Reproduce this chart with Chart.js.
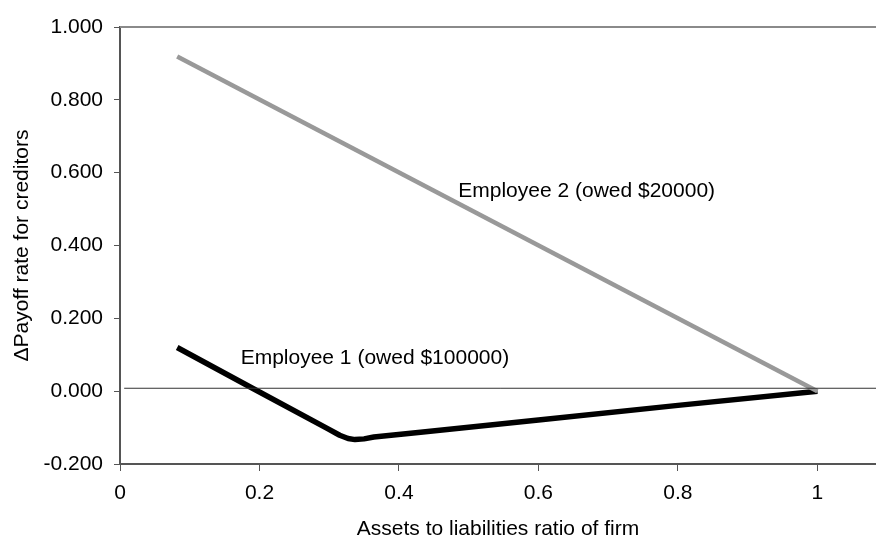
<!DOCTYPE html>
<html lang="en">
<head>
    <meta charset="UTF-8">
    <title>Payoff rate for creditors</title>
    <script src="https://cdn.jsdelivr.net/npm/chart.js"></script>
    <style>
        html, body {
            margin: 0;
            padding: 0;
            background: #ffffff;
        }
        #wrap {
            width: 876px;
            height: 538px;
        }
    </style>
</head>
<body>
    <div id="wrap"><canvas id="chart"></canvas></div>

    <script>
        // assets-to-liabilities ratio and payoff change
        const emp1X = [0.082, 0.19, 0.297, 0.315, 0.327, 0.337, 0.35, 0.364, 0.431, 0.6, 0.8, 1.0];
        const emp1Y = [0.12, 0.008, -0.102, -0.121, -0.130, -0.133, -0.131, -0.126, -0.113, -0.079, -0.039, 0.0];
        const emp2X = [0.082, 1.0];
        const emp2Y = [0.919, 0.0];
        const zeroX = [0.006, 1.084];
        const zeroY = [0.008, 0.008];

        const xTicks = [0, 0.2, 0.4, 0.6, 0.8, 1];
        const yTicks = [-0.2, 0, 0.2, 0.4, 0.6, 0.8, 1.0];

        const labelTexts = ["Employee 1 (owed $100000)", "Employee 2 (owed $20000)"];
        const labelX = [0.173, 0.485];
        const labelY = [0.075, 0.534];

        const FONT = "'Liberation Sans', Arial, sans-serif";
        const AXIS = "#555555";

        function pts(xs, ys) {
            return xs.map((x, i) => ({ x: x, y: ys[i] }));
        }

        const chartDecor = {
            id: 'chartDecor',
            afterDatasetsDraw(chart) {
                const { ctx, chartArea, scales } = chart;
                ctx.save();
                // top frame line
                ctx.strokeStyle = "#8a8a8a";
                ctx.lineWidth = 2;
                ctx.beginPath();
                ctx.moveTo(chartArea.left, chartArea.top);
                ctx.lineTo(chartArea.right, chartArea.top);
                ctx.stroke();

                // series labels
                ctx.fillStyle = "#000";
                ctx.font = "21px " + FONT;
                ctx.textAlign = "left";
                ctx.textBaseline = "alphabetic";
                labelTexts.forEach((t, i) => {
                    ctx.fillText(t, scales.x.getPixelForValue(labelX[i]), scales.y.getPixelForValue(labelY[i]));
                });
                ctx.restore();
            }
        };

        new Chart(document.getElementById('chart'), {
            type: 'scatter',
            data: {
                datasets: [
                    {
                        label: "zero",
                        data: pts(zeroX, zeroY),
                        showLine: true,
                        borderColor: "#333",
                        borderWidth: 1,
                        pointRadius: 0
                    },
                    {
                        label: labelTexts[1],
                        data: pts(emp2X, emp2Y),
                        showLine: true,
                        borderColor: "#999999",
                        borderWidth: 4.5,
                        pointRadius: 0
                    },
                    {
                        label: labelTexts[0],
                        data: pts(emp1X, emp1Y),
                        showLine: true,
                        borderColor: "#000000",
                        borderWidth: 5.5,
                        borderJoinStyle: 'round',
                        borderCapStyle: 'butt',
                        tension: 0,
                        pointRadius: 0
                    }
                ]
            },
            options: {
                responsive: true,
                maintainAspectRatio: false,
                animation: false,
                layout: { padding: { top: 27, left: 0, right: 0, bottom: 0 } },
                plugins: {
                    legend: { display: false },
                    tooltip: { enabled: false }
                },
                scales: {
                    x: {
                        type: 'linear',
                        min: 0,
                        max: 1.084,
                        afterFit(s) { s.height = 74; },
                        afterBuildTicks(s) { s.ticks = xTicks.map(v => ({ value: v })); },
                        ticks: {
                            color: "#000",
                            font: { family: FONT, size: 21 },
                            padding: 10,
                            maxRotation: 0,
                            callback: v => String(Math.round(v * 10) / 10)
                        },
                        grid: {
                            drawOnChartArea: false,
                            drawTicks: true,
                            tickLength: 7,
                            color: AXIS,
                            lineWidth: 1
                        },
                        border: { display: true, color: AXIS, width: 2 },
                        title: {
                            display: true,
                            text: "Assets to liabilities ratio of firm",
                            color: "#000",
                            font: { family: FONT, size: 21, lineHeight: 0.8 },
                            padding: { top: 0, bottom: 0 }
                        }
                    },
                    y: {
                        min: -0.2,
                        max: 1.0,
                        afterFit(s) { s.width = 120; },
                        afterBuildTicks(s) { s.ticks = yTicks.map(v => ({ value: v })); },
                        ticks: {
                            color: "#000",
                            font: { family: FONT, size: 21 },
                            padding: 11,
                            callback: v => v.toFixed(3)
                        },
                        grid: {
                            drawOnChartArea: false,
                            drawTicks: true,
                            tickLength: 6,
                            color: AXIS,
                            lineWidth: 1
                        },
                        border: { display: true, color: AXIS, width: 2 },
                        title: {
                            display: true,
                            text: "\u0394Payoff rate for creditors",
                            color: "#000",
                            font: { family: FONT, size: 21 },
                            padding: { top: 10, bottom: 0 }
                        }
                    }
                }
            },
            plugins: [chartDecor]
        });
    </script>
</body>
</html>
